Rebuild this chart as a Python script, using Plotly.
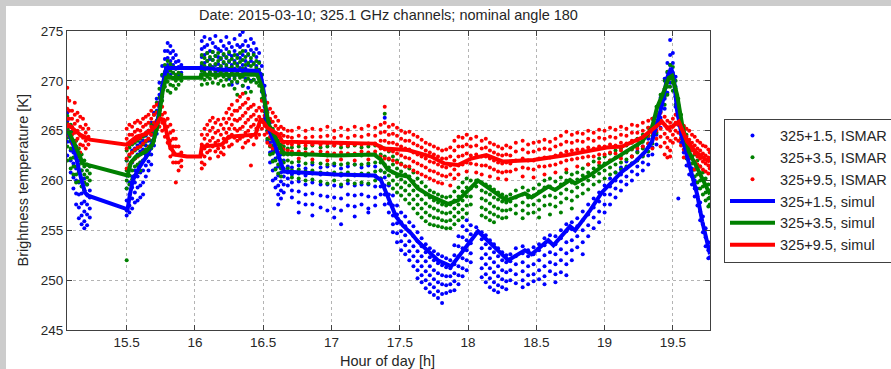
import plotly.graph_objects as go

# ---------------- simulated lines ----------------
blue_sim_t = [15.063, 15.105, 15.155, 15.195, 15.213, 15.507, 15.519, 15.544, 15.592, 15.654, 15.703, 15.739, 15.764,
              15.789, 16.04, 16.22, 16.456, 16.480, 16.504, 16.529, 16.578, 16.627, 16.651, 17.031, 17.313, 17.362,
              17.423, 17.472, 17.522, 17.583, 17.632, 17.706, 17.779, 17.877, 17.950, 18.024, 18.073, 18.294, 18.416,
              18.466, 18.588, 18.625, 18.747, 18.784, 18.894, 18.980, 19.128, 19.225, 19.298, 19.347, 19.384, 19.421,
              19.458, 19.487, 19.507, 19.531, 19.568, 19.629, 19.678, 19.715, 19.752, 19.772]
blue_sim_tb = [265.1, 263.8, 260.8, 258.8, 258.5, 257.1, 258.2, 260.0, 261.3, 262.6, 264.3, 267.0, 269.6,
               271.3, 271.3, 271.1, 271.0, 270.7, 268.9, 265.6, 263.9, 261.9, 260.9, 260.6, 260.5, 260.05,
               258.0, 256.4, 255.5, 254.7, 253.9, 252.9, 252.0, 251.4, 252.7, 254.0, 254.9, 252.0, 253.0,
               252.6, 254.0, 253.5, 255.4, 255.0, 257.0, 258.8, 260.9, 261.9, 262.9, 263.9, 265.6, 267.6,
               270.3, 271.3, 270.3, 267.0, 264.3, 261.3, 258.6, 255.9, 253.9, 252.6]

green_sim_t = [15.063, 15.118, 15.179, 15.507, 15.531, 15.568, 15.641, 15.690, 15.727, 15.764, 15.789, 16.04, 16.045,
               16.456, 16.492, 16.517, 16.541, 16.590, 16.640, 16.664, 17.031, 17.313, 17.362, 17.411, 17.485, 17.558,
               17.632, 17.730, 17.853, 17.926, 18.024, 18.073, 18.281, 18.416, 18.466, 18.588, 18.637, 18.747, 18.784,
               18.894, 18.980, 19.128, 19.275, 19.347, 19.384, 19.434, 19.470, 19.494, 19.531, 19.568, 19.617, 19.691,
               19.752, 19.772]
green_sim_tb = [265.2, 263.7, 261.7, 260.5, 261.8, 262.4, 262.9, 263.6, 265.6, 268.95, 270.3, 270.3, 270.6,
                270.6, 269.3, 267.3, 265.6, 264.3, 262.9, 262.7, 262.5, 262.6, 262.1, 261.1, 260.6, 260.4,
                259.2, 258.4, 257.65, 258.0, 259.4, 260.0, 258.0, 258.7, 258.3, 259.4, 259.05, 260.05, 259.7,
                260.55, 261.4, 262.6, 263.9, 265.3, 267.3, 268.95, 270.3, 270.5, 268.6, 265.6, 262.9, 260.9,
                259.25, 258.6]

red_sim_t = [15.063, 15.158, 15.231, 15.500, 15.573, 15.647, 15.708, 15.745, 15.769, 15.818, 15.855, 15.941, 16.039,
             16.051, 16.198, 16.247, 16.443, 16.480, 16.504, 16.529, 16.614, 16.640, 17.031, 17.313, 17.386, 17.558,
             17.730, 17.828, 17.926, 18.024, 18.134, 18.257, 18.478, 18.723, 19.016, 19.128, 19.275, 19.372, 19.421,
             19.458, 19.494, 19.543, 19.605, 19.666, 19.740, 19.772]
red_sim_tb = [265.7, 264.6, 264.1, 263.6, 264.4, 264.7, 265.4, 266.2, 266.1, 263.4, 262.6, 262.4, 262.4,
              263.4, 263.6, 264.4, 264.6, 266.1, 265.8, 265.3, 264.6, 263.9, 263.8, 263.7, 263.2, 263.05,
              262.4, 261.7, 261.55, 262.2, 262.55, 261.9, 262.05, 262.55, 263.3, 263.4, 264.3, 265.3, 265.9,
              265.3, 265.4, 265.9, 263.9, 262.9, 262.1, 261.9]

# ---------------- ISMAR measurements (time columns, brightness temps per column) ----------------
blue_ismar_t = [15.065, 15.09, 15.11, 15.13, 15.15, 15.17, 15.19, 15.21, 15.23,
                15.50, 15.52, 15.54, 15.56, 15.58, 15.60, 15.62, 15.64, 15.66, 15.68, 15.70, 15.72, 15.74, 15.76,
                15.78, 15.80, 15.82, 15.84, 15.86, 15.88, 15.90,
                16.05, 16.07, 16.09, 16.11, 16.13, 16.15, 16.17, 16.19, 16.21, 16.23, 16.25, 16.27, 16.29, 16.31,
                16.33, 16.35, 16.37, 16.39, 16.41, 16.43, 16.45, 16.47, 16.49, 16.51, 16.53, 16.55, 16.57, 16.59,
                16.61, 16.63, 16.65, 16.68,
                16.71, 16.76, 16.81, 16.86, 16.92, 16.97, 17.02, 17.07, 17.12, 17.17, 17.22, 17.27, 17.32,
                17.36, 17.39, 17.42, 17.45, 17.48, 17.51, 17.54, 17.57, 17.60, 17.63, 17.66, 17.69, 17.72, 17.75,
                17.78, 17.81, 17.84, 17.87, 17.90, 17.93, 17.96, 17.99, 18.02, 18.06, 18.10, 18.13, 18.16, 18.19,
                18.22, 18.25, 18.28, 18.31, 18.35, 18.40, 18.44, 18.48, 18.52, 18.56, 18.60, 18.64, 18.68, 18.72,
                18.76, 18.80, 18.84, 18.88, 18.92, 18.96, 19.00, 19.04, 19.08, 19.12, 19.16, 19.20, 19.24, 19.28,
                19.32, 19.35, 19.38, 19.41, 19.44, 19.46, 19.48, 19.50, 19.52, 19.54, 19.56, 19.58, 19.60, 19.62,
                19.64, 19.66, 19.68, 19.70, 19.72, 19.74, 19.76, 19.77]
blue_ismar_tb = [
    [266.8, 265.9, 265.2, 264.6, 263.9, 262.5], [265.5, 264.6, 263.9, 263.0, 262.0, 260.8],
    [264.8, 263.6, 262.8, 261.7, 260.3, 259.2], [263.4, 262.4, 261.2, 260.0, 258.7, 257.6],
    [262.0, 260.9, 259.8, 258.6, 257.3, 256.2], [261.0, 259.9, 258.7, 257.7, 256.5, 255.6],
    [260.2, 259.0, 257.9, 256.9, 255.9, 255.2], [259.6, 258.6, 257.6, 256.6, 255.5], [259.0, 258.3, 257.2, 256.3],
    [262.0, 260.5, 259.2, 258.0, 257.0, 256.5], [262.5, 261.2, 259.8, 258.6, 257.5, 256.8],
    [263.0, 261.8, 260.4, 259.3, 258.2, 257.2], [263.2, 262.2, 261.0, 259.8, 258.8, 257.8],
    [263.5, 262.6, 261.5, 260.4, 259.3, 258.0], [263.8, 262.9, 261.8, 260.8, 259.5, 258.3],
    [264.0, 263.1, 262.0, 261.0, 259.8, 258.6], [264.5, 263.5, 262.6, 261.5, 260.4],
    [265.0, 264.0, 263.0, 261.9, 261.0], [265.8, 264.6, 263.6, 262.6, 261.6], [266.8, 265.6, 264.6, 263.5],
    [268.2, 267.0, 265.8, 264.7], [269.8, 268.6, 267.4, 266.2], [271.5, 270.5, 269.5, 268.4],
    [273.0, 272.2, 271.5, 270.8, 270.0], [273.8, 273.0, 272.3, 271.6, 270.9], [273.5, 272.8, 272.0, 271.4, 270.6],
    [273.0, 272.3, 271.6, 270.8], [272.6, 271.9, 271.2, 270.5], [272.0, 271.4, 270.6], [271.6, 270.8],
    [274.0, 273.2, 272.4, 271.6, 271.0], [274.4, 273.4, 272.6, 271.8, 271.1], [273.6, 272.8, 272.0, 271.3, 270.6],
    [274.2, 273.0, 272.2, 271.5, 270.8], [273.8, 272.9, 272.1, 271.4], [274.5, 273.4, 272.5, 271.6, 270.9],
    [273.2, 272.4, 271.7, 271.0], [274.0, 273.0, 272.2, 271.4], [273.5, 272.6, 271.8, 271.0],
    [274.4, 273.2, 272.3, 271.4, 270.6], [273.8, 272.7, 271.9, 271.1, 270.2], [273.4, 272.5, 271.6, 270.8, 269.6],
    [274.2, 273.0, 272.0, 271.2, 270.4], [273.6, 272.6, 271.7, 270.9, 269.8], [274.6, 273.4, 272.3, 271.3, 270.5],
    [274.9, 273.6, 272.6, 271.6, 270.7, 269.5], [274.0, 273.0, 272.0, 271.2, 270.2],
    [273.5, 272.6, 271.6, 270.8, 269.3], [274.2, 273.1, 272.0, 271.0, 270.0], [273.8, 272.8, 271.8, 270.9, 270.1],
    [273.2, 272.4, 271.5, 270.7], [272.8, 271.9, 271.1, 270.2], [271.5, 270.6, 269.8, 268.9],
    [269.5, 268.5, 267.4, 266.2], [267.0, 266.0, 265.0, 264.0], [265.8, 264.8, 263.8, 262.8, 261.8],
    [265.0, 264.0, 263.0, 262.0, 261.0, 260.0], [264.2, 263.2, 262.2, 261.2, 260.2, 259.3],
    [263.2, 262.3, 261.4, 260.5, 259.5, 258.6, 257.6], [262.6, 261.8, 260.8, 259.9, 259.0, 258.2],
    [262.0, 261.2, 260.4, 259.6, 258.8], [261.4, 260.8, 260.2, 259.5],
    [261.3, 260.6, 259.8, 259.0, 258.3], [261.5, 260.7, 259.9, 258.9, 257.8, 256.8],
    [261.2, 260.5, 259.6, 258.6, 257.6], [261.6, 260.7, 259.8, 258.7, 257.6, 256.5],
    [261.3, 260.6, 259.6, 258.5, 257.3], [261.4, 260.7, 259.6, 258.4, 257.0],
    [261.5, 260.6, 259.5, 258.3, 257.2, 256.3], [261.2, 260.5, 259.4, 258.2, 257.0, 255.6],
    [261.4, 260.6, 259.7, 258.6, 257.5], [261.6, 260.5, 259.5, 258.5, 257.4, 256.4],
    [261.3, 260.6, 259.6, 258.6, 257.6], [261.5, 260.5, 259.6, 258.4, 257.2, 256.8],
    [261.4, 260.5, 259.4, 258.3, 257.5],
    [261.0, 260.2, 259.4, 258.6], [266.3, 260.3, 259.5, 258.6, 257.6], [259.5, 258.6, 257.7, 256.8],
    [258.5, 257.5, 256.5, 255.6, 254.8], [257.5, 256.6, 255.7, 254.7, 253.8], [256.8, 255.8, 254.9, 253.9, 253.0],
    [256.4, 255.4, 254.5, 253.5, 252.6], [255.8, 254.9, 253.9, 252.9, 252.0], [255.4, 254.4, 253.4, 252.4, 251.4],
    [254.8, 253.9, 252.9, 251.9, 251.0, 250.2], [254.2, 253.4, 252.4, 251.4, 250.5, 249.8],
    [253.6, 252.8, 251.9, 250.9, 250.0, 249.2], [253.2, 252.3, 251.4, 250.5, 249.6, 248.8],
    [252.9, 252.0, 251.0, 250.1, 249.3, 248.5], [252.6, 251.7, 250.7, 249.8, 248.9, 248.2],
    [252.4, 251.5, 250.5, 249.6, 248.6, 247.7], [252.2, 251.3, 250.4, 249.5, 248.7],
    [252.0, 251.2, 250.4, 249.6, 248.9], [253.5, 252.5, 251.6, 250.7, 249.9, 249.0],
    [254.4, 253.4, 252.4, 251.4, 250.5, 249.6], [255.4, 254.3, 253.2, 252.2, 251.2, 250.4],
    [256.0, 255.0, 254.0, 253.0, 252.0, 251.0], [255.5, 254.6, 253.7, 252.7, 251.8], [255.3, 254.7],
    [254.8, 254.1, 253.2, 252.2, 251.2, 250.3], [254.5, 253.6, 252.6, 251.6, 250.6, 249.8],
    [254.0, 253.2, 252.2, 251.2, 250.2, 249.3], [253.6, 252.8, 251.8, 250.8, 249.8, 249.0],
    [253.2, 252.4, 251.4, 250.4, 249.5, 248.8], [252.8, 252.0, 251.0, 250.1, 249.3],
    [252.5, 251.8, 250.8, 249.9, 249.1], [252.6, 251.9, 251.0, 250.0], [253.2, 252.4, 251.6, 250.6, 249.7],
    [253.4, 252.7, 251.8, 250.9, 250.0, 249.3], [253.0, 252.4, 251.4, 250.5, 249.6],
    [253.3, 252.6, 251.6, 250.6, 249.9], [253.6, 253.0, 252.0, 251.0, 250.1],
    [254.2, 253.5, 252.5, 251.4, 250.4, 249.6], [254.5, 253.8, 252.8, 251.8, 250.9],
    [254.4, 253.6, 252.6, 251.6, 250.6, 249.8], [255.0, 254.2, 253.1, 252.0, 250.8],
    [255.6, 254.9, 253.8, 252.7, 251.6, 250.5], [255.8, 255.1, 254.0, 253.0, 252.0], [256.2, 255.4, 254.4, 253.3],
    [256.9, 256.0, 255.0, 253.8, 252.6], [257.6, 256.6, 255.5, 254.4], [258.2, 257.3, 256.3, 255.2],
    [258.8, 257.9, 256.9, 255.8], [259.5, 258.6, 257.6, 256.8], [260.2, 259.4, 258.6, 257.6],
    [260.8, 260.0, 259.2, 258.3], [261.3, 260.6, 259.9, 259.0], [261.9, 261.2, 260.4, 259.6],
    [262.4, 261.7, 260.9, 260.0], [262.9, 262.1, 261.4, 260.6], [263.4, 262.6, 261.8, 261.0],
    [264.2, 263.3, 262.5, 261.6], [265.0, 264.2, 263.3, 262.6], [266.6, 265.6, 264.6, 263.6],
    [268.3, 267.3, 266.3, 265.3], [270.2, 269.2, 268.2, 267.2], [271.8, 270.8, 269.8, 268.8],
    [274.1, 272.6, 271.6, 270.6, 269.8], [272.8, 271.8, 270.8, 269.8], [270.4, 269.4, 268.4, 267.4],
    [267.6, 266.6, 265.6, 258.2], [265.6, 264.6, 263.8], [264.4, 263.6, 262.8], [263.2, 262.4, 261.5],
    [262.2, 261.4, 260.6], [261.2, 260.4, 259.6], [260.0, 259.2, 258.4], [259.2, 258.4, 257.5],
    [257.8, 256.9, 256.0], [256.4, 255.6, 254.8], [255.2, 254.3, 253.4], [253.8, 253.0, 252.2], [253.0, 252.3]]

green_ismar_t = blue_ismar_t
green_ismar_tb = [
    [266.5, 265.7, 265.0, 264.3, 263.4, 262.0], [265.6, 264.8, 264.0, 263.2, 262.2, 261.2],
    [265.0, 264.0, 263.1, 262.3, 261.4, 260.6], [264.0, 263.0, 262.2, 261.4, 260.6, 259.8],
    [263.2, 262.4, 261.6, 260.8, 259.9], [262.6, 261.8, 261.0, 260.2, 259.4], [262.0, 261.4, 260.6, 259.8, 259.0],
    [261.6, 261.0, 260.3, 259.6], [261.4, 260.7, 260.0],
    [263.0, 262.0, 261.0, 260.0, 259.2, 252.0], [263.3, 262.4, 261.4, 260.5, 259.6],
    [263.6, 262.8, 261.9, 261.0, 260.1], [263.8, 263.0, 262.2, 261.4, 260.5], [264.0, 263.2, 262.4, 261.6, 260.8],
    [264.2, 263.4, 262.6, 261.8, 261.0], [264.4, 263.6, 262.8, 262.0], [264.6, 263.9, 263.1, 262.3],
    [265.0, 264.2, 263.4, 262.6], [265.6, 264.8, 264.0, 263.2], [266.6, 265.8, 264.9, 264.0],
    [267.8, 266.9, 266.0, 265.1], [269.2, 268.3, 267.4, 266.5], [270.6, 269.8, 268.9, 268.0],
    [271.6, 270.9, 270.2, 269.4], [272.0, 271.3, 270.6, 269.9, 269.0], [271.7, 271.0, 270.4, 269.6, 268.8],
    [271.4, 270.8, 270.2, 269.5], [271.2, 270.6, 270.0, 269.2], [270.8, 270.2, 269.6], [270.6, 270.0],
    [272.6, 271.8, 271.0, 270.3, 269.6], [272.3, 271.5, 270.8, 270.1], [272.8, 272.0, 271.2, 270.4, 269.7],
    [272.4, 271.6, 270.9, 270.2], [272.9, 272.1, 271.3, 270.6, 269.8], [272.5, 271.7, 271.0, 270.3],
    [272.8, 272.0, 271.2, 270.5, 269.7], [272.3, 271.5, 270.8, 270.0], [272.7, 271.9, 271.1, 270.4, 269.5],
    [272.4, 271.6, 270.8, 270.1], [272.9, 272.0, 271.2, 270.4, 269.6], [272.2, 271.4, 270.7, 269.9],
    [272.6, 271.8, 271.0, 270.2, 269.2], [272.3, 271.5, 270.7, 269.9, 268.6], [272.8, 271.9, 271.1, 270.3],
    [273.0, 272.1, 271.2, 270.4, 269.5], [272.4, 271.6, 270.8, 270.0, 268.8], [272.7, 271.8, 271.0, 270.2],
    [272.3, 271.5, 270.7, 269.9, 268.9], [272.6, 271.7, 270.9, 270.1], [272.0, 271.3, 270.6, 269.8],
    [271.8, 271.0, 270.3, 269.5], [270.6, 269.8, 269.0, 268.2], [268.6, 267.8, 266.9, 266.0],
    [266.8, 265.9, 265.0, 264.2], [266.0, 265.1, 264.2, 263.4, 262.6], [265.2, 264.4, 263.5, 262.7, 261.9],
    [264.6, 263.8, 262.9, 262.0, 261.1], [264.0, 263.2, 262.4, 261.6, 260.7], [263.6, 262.8, 262.0, 261.2, 260.4],
    [263.4, 262.6, 261.8, 261.0], [263.2, 262.6, 262.0, 261.2],
    [263.3, 262.6, 261.8, 261.0, 260.3], [263.4, 262.7, 261.9, 261.1, 260.2], [263.2, 262.5, 261.7, 260.9, 260.0],
    [263.5, 262.7, 261.8, 261.0, 260.1], [263.3, 262.6, 261.7, 260.8, 259.9], [263.4, 262.5, 261.6, 260.7, 259.7],
    [263.5, 262.6, 261.7, 260.8, 260.0], [263.3, 262.5, 261.6, 260.7, 259.6], [263.4, 262.6, 261.7, 260.8, 260.0],
    [263.5, 262.6, 261.6, 260.6, 259.7], [263.3, 262.5, 261.6, 260.7, 259.8], [263.4, 262.6, 261.7, 260.7, 259.7],
    [263.5, 262.6, 261.8, 260.9, 260.0],
    [263.4, 262.6, 261.8, 261.0, 260.2], [266.7, 263.2, 262.4, 261.6, 260.8], [262.9, 262.1, 261.3, 260.5, 259.7],
    [262.4, 261.6, 260.8, 260.0, 259.2], [262.0, 261.2, 260.4, 259.6, 258.8], [261.7, 260.9, 260.1, 259.3, 258.5],
    [261.4, 260.6, 259.8, 259.0, 258.1], [261.2, 260.4, 259.5, 258.6, 257.7], [260.8, 259.9, 259.0, 258.1, 257.2],
    [260.2, 259.4, 258.5, 257.6, 256.7], [259.8, 259.0, 258.1, 257.2, 256.3], [259.4, 258.6, 257.7, 256.8, 255.9],
    [259.0, 258.3, 257.4, 256.5, 255.6], [258.8, 258.0, 257.2, 256.3, 255.5], [258.6, 257.8, 257.0, 256.2, 255.4],
    [258.4, 257.6, 256.8, 256.0, 255.3], [258.3, 257.5, 256.7, 255.9, 255.2], [258.4, 257.6, 256.8, 256.0, 255.2],
    [258.9, 258.0, 257.2, 256.4, 255.6], [259.3, 258.4, 257.6, 256.8, 256.0], [259.8, 258.9, 258.0, 257.1, 256.3],
    [260.2, 259.3, 258.4, 257.5, 256.7], [260.0, 259.2, 258.4, 257.6], [260.0, 259.4],
    [259.8, 259.0, 258.2, 257.3, 256.5], [259.6, 258.8, 258.0, 257.1, 256.3], [259.4, 258.6, 257.7, 256.8, 256.0],
    [259.1, 258.3, 257.4, 256.6, 255.8], [258.8, 258.1, 257.2, 256.4], [258.6, 257.9, 257.0, 256.2],
    [258.4, 257.8, 257.0, 256.3], [258.6, 257.9, 257.1], [259.0, 258.3, 257.5, 256.7],
    [259.3, 258.6, 257.8, 257.0, 256.2], [259.0, 258.3, 257.5, 256.7], [259.2, 258.5, 257.6, 256.8],
    [259.6, 258.9, 258.0, 257.1, 256.3], [260.0, 259.3, 258.4, 257.5], [260.2, 259.4, 258.5, 257.6, 256.6],
    [259.9, 259.1, 258.3, 257.4], [260.3, 259.6, 258.7, 257.8, 256.8], [260.8, 260.0, 259.1, 258.2],
    [260.6, 259.8, 258.9, 258.0, 257.2], [260.8, 260.1, 259.3, 258.4], [261.2, 260.5, 259.6, 258.7],
    [261.6, 260.8, 260.0, 259.1], [261.9, 261.2, 260.4, 259.6], [262.2, 261.5, 260.7, 259.9],
    [262.4, 261.7, 261.0, 260.2], [262.7, 262.0, 261.3, 260.6], [263.0, 262.3, 261.6, 260.8],
    [263.2, 262.5, 261.8, 261.1], [263.5, 262.8, 262.1, 261.4], [263.8, 263.1, 262.4, 261.7],
    [264.2, 263.5, 262.8, 262.0], [264.6, 263.9, 263.2, 262.4], [265.3, 264.5, 263.7, 262.9],
    [266.2, 265.3, 264.5, 263.7], [267.4, 266.5, 265.6, 264.8], [268.6, 267.8, 266.9, 266.0],
    [270.0, 269.2, 268.4, 267.6], [270.9, 270.2, 269.4, 268.6], [271.6, 270.9, 270.2, 269.4],
    [271.4, 270.6, 269.8, 269.0], [270.0, 269.2, 268.4, 267.6], [268.2, 267.4, 266.6, 265.8],
    [266.6, 265.8, 265.0, 264.2], [265.4, 264.6, 263.8], [264.6, 263.8, 263.0, 262.2], [263.8, 263.0, 262.3, 261.6],
    [263.2, 262.4, 261.7, 261.0], [262.6, 261.8, 261.1, 260.4], [262.0, 261.3, 260.6, 259.8],
    [261.4, 260.7, 260.0, 259.2], [260.8, 260.1, 259.4, 258.6], [260.2, 259.5, 258.8, 258.0],
    [259.6, 258.9, 258.2, 257.4], [259.0, 258.3, 257.6]]

red_ismar_t = [15.065, 15.08, 15.10, 15.12, 15.14, 15.16, 15.18, 15.20, 15.22,
               15.50, 15.52, 15.54, 15.56, 15.58, 15.60, 15.62, 15.64, 15.66, 15.68, 15.70, 15.72, 15.74, 15.76,
               15.78, 15.80, 15.82, 15.84, 15.86, 15.88, 15.90,
               16.05, 16.07, 16.09, 16.11, 16.13, 16.15, 16.17, 16.19, 16.21, 16.23, 16.25, 16.27, 16.29, 16.31,
               16.33, 16.35, 16.37, 16.39, 16.41, 16.43, 16.45, 16.47, 16.49, 16.51, 16.53, 16.55, 16.57, 16.59,
               16.61, 16.63, 16.65, 16.68,
               16.71, 16.76, 16.81, 16.86, 16.92, 16.97, 17.02, 17.07, 17.12, 17.17, 17.22, 17.27, 17.32,
               17.36, 17.39, 17.42, 17.45, 17.48, 17.51, 17.54, 17.57, 17.60, 17.63, 17.66, 17.69, 17.72, 17.75,
               17.78, 17.81, 17.84, 17.87, 17.90, 17.93, 17.96, 17.99, 18.02, 18.06, 18.10, 18.13, 18.16, 18.19,
               18.22, 18.25, 18.28, 18.31, 18.35, 18.40, 18.44, 18.48, 18.52, 18.56, 18.60, 18.64, 18.68, 18.72,
               18.76, 18.80, 18.84, 18.88, 18.92, 18.96, 19.00, 19.04, 19.08, 19.12, 19.16, 19.20, 19.24, 19.28,
               19.32, 19.35, 19.38, 19.41, 19.44, 19.46, 19.48, 19.50, 19.52, 19.54, 19.56, 19.58, 19.60, 19.62,
               19.64, 19.66, 19.68, 19.70, 19.72, 19.74, 19.76, 19.77]
red_ismar_tb = [
    [269.3, 268.3, 267.2, 266.2, 265.4, 264.6], [268.0, 267.0, 266.2, 265.4, 264.5], [267.0, 266.2, 265.4, 264.6, 263.7],
    [267.8, 266.6, 265.7, 264.8, 263.9], [266.8, 266.0, 265.0, 264.2, 263.2], [266.4, 265.4, 264.5, 263.6, 262.8],
    [266.2, 265.2, 264.3, 263.5], [265.6, 264.8, 264.0, 263.2], [265.2, 264.4, 263.6],
    [265.2, 264.2, 263.2, 262.2, 261.2], [265.6, 264.6, 263.6, 262.6, 261.6], [265.4, 264.6, 263.8, 262.8, 261.9],
    [265.8, 264.9, 264.0, 263.1, 262.2], [266.0, 265.1, 264.2, 263.3, 262.4], [265.8, 265.0, 264.3, 263.4],
    [266.2, 265.4, 264.6, 263.7, 262.8], [266.4, 265.6, 264.8, 264.0], [266.6, 265.8, 265.0, 264.2, 263.3],
    [267.0, 266.2, 265.4, 264.6], [267.4, 266.6, 265.8, 265.0], [267.6, 266.8, 266.0, 265.2],
    [267.8, 267.0, 266.2, 265.4], [267.4, 266.6, 265.8, 265.0], [266.8, 266.0, 265.2, 264.4],
    [266.2, 265.4, 264.6, 263.8], [265.6, 264.8, 264.0, 263.2, 262.4], [265.0, 264.2, 263.4, 262.6, 261.8],
    [264.2, 263.4, 262.6, 261.8, 259.8], [263.4, 262.6, 261.8, 261.0], [262.8, 262.0, 261.4],
    [264.6, 263.6, 262.6, 261.8, 261.2], [265.2, 264.2, 263.2, 262.4, 261.6], [265.6, 264.6, 263.6, 262.8],
    [266.0, 265.0, 264.0, 263.0, 262.2], [266.3, 265.3, 264.3, 263.4], [265.8, 264.8, 263.8, 262.9],
    [266.1, 265.0, 264.0, 263.2, 262.4], [265.6, 264.6, 263.6, 262.8], [266.2, 265.2, 264.2, 263.3, 262.6],
    [266.8, 265.8, 264.8, 263.9], [267.2, 266.2, 265.2, 264.3, 263.4], [267.6, 266.6, 265.6, 264.6, 263.6],
    [267.0, 266.1, 265.2, 264.3], [268.0, 267.0, 266.0, 265.0, 264.0], [268.4, 267.3, 266.2, 265.2, 264.2],
    [268.7, 267.6, 266.5, 265.4, 264.4, 263.3], [267.8, 266.8, 265.8, 264.8, 263.8],
    [268.2, 267.2, 266.1, 265.0, 264.0], [267.4, 266.4, 265.4, 264.4, 261.5], [267.6, 266.6, 265.6, 264.6, 263.6],
    [267.0, 266.1, 265.2, 264.3], [267.3, 266.4, 265.5, 264.6], [268.0, 267.0, 266.1, 265.2],
    [268.5, 267.5, 266.5, 265.5, 264.6], [267.8, 266.8, 265.8, 264.8, 263.8], [267.2, 266.2, 265.3, 264.4, 263.5],
    [266.8, 265.9, 265.0, 264.1, 263.2], [266.4, 265.5, 264.6, 263.7], [266.0, 265.2, 264.4, 263.6, 262.8],
    [265.4, 264.7, 264.0, 263.3], [265.2, 264.5, 263.8, 263.1], [265.0, 264.4, 263.7, 263.0],
    [265.0, 264.3, 263.6, 262.9], [265.3, 264.5, 263.7, 262.9, 262.2], [265.0, 264.3, 263.5, 262.8],
    [265.2, 264.4, 263.6, 262.8, 262.1], [265.1, 264.4, 263.6, 262.9], [265.4, 264.5, 263.7, 262.8, 262.0],
    [265.0, 264.3, 263.5, 262.7], [265.3, 264.5, 263.6, 262.8, 262.1], [265.1, 264.3, 263.5, 262.7],
    [265.4, 264.5, 263.6, 262.7, 262.0], [265.2, 264.4, 263.6, 262.9], [265.5, 264.6, 263.7, 262.8, 262.1],
    [265.3, 264.5, 263.7, 262.9],
    [265.6, 264.8, 264.0, 263.2, 262.4], [267.4, 265.8, 264.9, 264.0, 263.1, 262.2], [265.4, 264.6, 263.8, 263.0, 262.2],
    [265.6, 264.7, 263.8, 262.9, 262.0], [265.3, 264.5, 263.6, 262.7, 261.8], [265.0, 264.2, 263.4, 262.5, 261.6],
    [264.8, 264.0, 263.2, 262.3, 261.4], [264.9, 264.0, 263.1, 262.2, 261.4], [264.6, 263.7, 262.8, 261.9, 261.0],
    [264.4, 263.5, 262.6, 261.7, 260.8], [264.1, 263.3, 262.4, 261.5, 260.6], [263.8, 263.0, 262.2, 261.3, 260.4],
    [263.6, 262.8, 261.9, 261.0, 260.2], [263.4, 262.6, 261.8, 260.9, 260.0], [263.2, 262.4, 261.6, 260.7, 259.8],
    [263.0, 262.2, 261.4, 260.5, 259.7], [263.1, 262.2, 261.3, 260.4], [263.3, 262.4, 261.5, 260.6, 259.5],
    [264.0, 263.0, 262.0, 261.1, 260.2], [264.4, 263.4, 262.4, 261.5, 260.6], [264.3, 263.4, 262.5, 261.6],
    [264.6, 263.6, 262.7, 261.8, 260.9], [264.2, 263.4, 262.5, 261.7], [264.4, 263.5, 262.6, 261.6, 260.8],
    [264.0, 263.2, 262.4, 261.5, 260.6], [264.2, 263.3, 262.4, 261.5], [263.8, 263.0, 262.2, 261.3, 260.4],
    [263.6, 262.8, 262.0, 261.1], [263.4, 262.6, 261.8, 260.9, 260.2], [263.2, 262.5, 261.7, 260.8],
    [263.5, 262.6, 261.8, 260.9, 260.1], [263.3, 262.5, 261.7, 260.9], [263.8, 262.9, 262.0, 261.1],
    [264.0, 263.1, 262.2, 261.3, 260.4], [263.6, 262.8, 262.0, 261.2], [263.8, 262.9, 262.0, 261.1, 260.3],
    [263.9, 263.1, 262.2, 261.4], [264.1, 263.2, 262.3, 261.4, 260.6], [263.9, 263.1, 262.3, 261.5],
    [264.2, 263.4, 262.5, 261.6, 260.8], [264.5, 263.6, 262.7, 261.8], [264.9, 263.9, 262.9, 262.0, 261.1],
    [264.6, 263.8, 263.0, 262.1], [264.8, 264.0, 263.1, 262.2, 261.4], [264.7, 263.9, 263.1, 262.3],
    [265.0, 264.2, 263.3, 262.4, 261.6], [264.8, 264.0, 263.2, 262.4], [265.1, 264.3, 263.4, 262.6, 261.8],
    [265.0, 264.2, 263.4, 262.6], [265.3, 264.4, 263.6, 262.8, 262.0], [265.1, 264.3, 263.5, 262.7],
    [265.4, 264.6, 263.8, 263.0, 262.2], [265.2, 264.5, 263.7, 262.9], [265.6, 264.8, 264.0, 263.2, 262.4],
    [265.5, 264.8, 264.0, 263.2], [265.8, 265.0, 264.2, 263.4, 262.6], [266.0, 265.3, 264.5, 263.7],
    [266.2, 265.5, 264.8, 264.0, 263.2], [266.6, 265.8, 265.0, 264.2], [266.8, 266.0, 265.2, 264.4, 263.4],
    [266.4, 265.6, 264.7, 263.8, 262.6], [266.0, 265.2, 264.3, 263.3, 262.3], [265.8, 265.0, 264.0, 263.0, 262.4],
    [266.2, 265.4, 264.6, 263.8], [266.6, 265.8, 265.0, 264.2], [266.4, 265.6, 264.8, 264.0],
    [265.9, 265.1, 264.3, 263.5], [265.5, 264.7, 263.9, 263.1, 262.3], [265.2, 264.4, 263.6, 262.8],
    [265.0, 264.1, 263.2, 262.4, 261.6], [264.6, 263.8, 263.0, 262.2], [264.4, 263.5, 262.7, 261.9, 261.1],
    [264.0, 263.2, 262.4, 261.6], [263.8, 263.0, 262.2, 261.4, 260.6], [263.5, 262.7, 261.9, 261.1],
    [263.4, 262.5, 261.7, 260.9], [263.1, 262.3, 261.5, 260.7], [262.8, 262.0, 261.2]]

series_names = ["325+1.5, ISMAR", "325+3.5, ISMAR", "325+9.5, ISMAR",
                "325+1.5, simul", "325+3.5, simul", "325+9.5, simul"]
colors = ["#0000ff", "#008000", "#ff0000"]

x_ticks = [15.5, 16, 16.5, 17, 17.5, 18, 18.5, 19, 19.5]
y_ticks = [245, 250, 255, 260, 265, 270, 275]

fig = go.Figure()

for name, ts, tbs, col in zip(series_names[:3],
                              [blue_ismar_t, green_ismar_t, red_ismar_t],
                              [blue_ismar_tb, green_ismar_tb, red_ismar_tb], colors):
    xs, ys = [], []
    for t, vals in zip(ts, tbs):
        xs += [t] * len(vals)
        ys += vals
    fig.add_trace(go.Scatter(x=xs, y=ys, mode="markers", name=name,
                             marker=dict(color=col, size=4, line=dict(width=0))))

for name, ts, tbs, col in zip(series_names[3:],
                              [blue_sim_t, green_sim_t, red_sim_t],
                              [blue_sim_tb, green_sim_tb, red_sim_tb], colors):
    fig.add_trace(go.Scatter(x=ts, y=tbs, mode="lines", name=name,
                             line=dict(color=col, width=4)))

L, R, T, B = 67, 181, 31, 39
W, H = 891, 369
pw, ph = W - L - R, H - T - B

def px_x(px):
    return (px - L) / pw

def px_y(py):
    return (H - B - py) / ph

axis_common = dict(showline=True, linecolor="#404040", linewidth=1, mirror="ticks",
                   ticks="inside", ticklen=5, tickcolor="#404040",
                   showgrid=True, gridcolor="#b4b4b4", griddash="dot", gridwidth=1,
                   zeroline=False, tickfont=dict(size=13.5, color="#262626"))

fig.update_layout(
    width=W, height=H,
    margin=dict(l=L, r=R, t=T, b=B, autoexpand=False),
    paper_bgcolor="white", plot_bgcolor="white",
    font=dict(family="Liberation Sans, Arial, Helvetica, sans-serif", size=13, color="#262626"),
    title=dict(text="Date: 2015-03-10; 325.1 GHz channels; nominal angle 180",
               x=0.5, xref="paper", xanchor="center",
               y=1 - 14.5 / H, yref="container", yanchor="middle",
               font=dict(size=14.5, color="#262626")),
    xaxis=dict(range=[15.063, 19.772], tickvals=x_ticks, ticktext=[f"{v:g}" for v in x_ticks], **axis_common),
    yaxis=dict(range=[245, 275], tickvals=y_ticks, ticktext=[str(v) for v in y_ticks], **axis_common),
    showlegend=True,
    legend=dict(x=px_x(724), xanchor="left", y=px_y(118.5), yanchor="top",
                bgcolor="white", bordercolor="#404040", borderwidth=1,
                font=dict(size=14.5, color="#262626"), itemwidth=45, tracegroupgap=0,
                itemclick=False, itemdoubleclick=False),
    shapes=[
        dict(type="rect", xref="paper", yref="paper", x0=px_x(0), x1=px_x(W), y0=px_y(6), y1=px_y(0),
             fillcolor="#cccccc", line=dict(width=0), layer="above"),
        dict(type="rect", xref="paper", yref="paper", x0=px_x(0), x1=px_x(6), y0=px_y(H), y1=px_y(0),
             fillcolor="#cccccc", line=dict(width=0), layer="above"),
    ],
    annotations=[
        dict(text="Hour of day [h]", xref="paper", yref="paper", x=px_x(387.5), y=px_y(361),
             xanchor="center", yanchor="middle", showarrow=False, font=dict(size=14.5, color="#262626")),
        dict(text="Brightness temperature [K]", xref="paper", yref="paper", x=px_x(22), y=px_y(180.5),
             xanchor="center", yanchor="middle", textangle=-90, showarrow=False,
             font=dict(size=14.5, color="#262626")),
    ],
)

fig.write_html("out.html", config={"displayModeBar": False},
               post_script="document.body.style.margin='0px';document.body.style.overflow='hidden';")
